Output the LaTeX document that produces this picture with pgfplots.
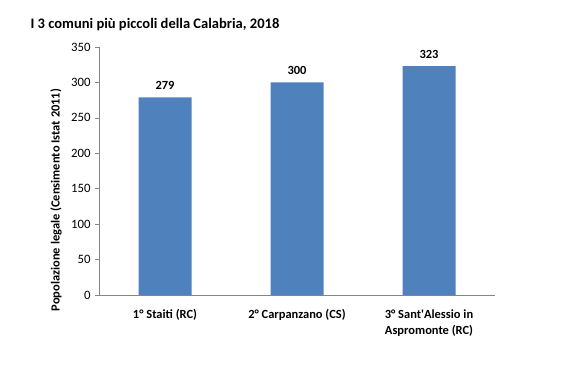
\documentclass[border=0pt]{standalone}
\usepackage{pgfplots}
\pgfplotsset{compat=1.18}
\usepackage{fontspec}
\setmainfont{Carlito}
\definecolor{barblue}{HTML}{4F81BD}
\definecolor{axgrey}{HTML}{868686}
\begin{document}
\begin{tikzpicture}[x=1bp,y=1bp]
\useasboundingbox (0,0) rectangle (563,371);
\node[anchor=west,font=\fontsize{14.6}{16}\selectfont\bfseries] at (27,346) {I 3 comuni più piccoli della Calabria, 2018};
\begin{axis}[
  at={(99bp,76bp)}, anchor=south west,
  scale only axis, width=396bp, height=248bp,
  xmin=-0.5, xmax=2.5, ymin=0, ymax=350,
  axis x line*=bottom, axis y line*=left,
  axis line style={axgrey, line width=0.6pt, -},
  ytick={0,50,...,350},
  ytick style={axgrey, line width=0.6pt},
  major tick length=4bp,
  tick align=outside,
  xtick={0,1,2},
  xticklabels={},
  xtick style={draw=none},
  extra x ticks={-0.5,0.5,1.5,2.5},
  extra x tick labels={},
  extra x tick style={xtick style={axgrey, line width=0.6pt}, major tick length=5bp, tick align=outside},
  ticklabel style={font=\fontsize{12.8}{14}\selectfont},
  /pgf/number format/assume math mode=true,
  yticklabel style={xshift=-1bp},
  nodes near coords,
  every node near coord/.append style={font=\fontsize{12.5}{14}\selectfont\bfseries, yshift=4bp},
  clip=false,
]
\addplot[ybar, bar width=53bp, fill=barblue, draw=none] coordinates {(0,279) (1,300) (2,323)};
\end{axis}
\node[rotate=90, font=\fontsize{12.5}{14}\selectfont\bfseries] at (56,171) {Popolazione legale (Censimento Istat 2011)};
\begin{scope}[font=\fontsize{12.5}{16.5}\selectfont\bfseries]
\node[anchor=north] at (165,65) {1° Staiti (RC)};
\node[anchor=north] at (297,65) {2° Carpanzano (CS)};
\node[anchor=north, align=center] at (429,65) {3° Sant\textquotesingle Alessio in\\Aspromonte (RC)};
\end{scope}
\end{tikzpicture}
\end{document}
